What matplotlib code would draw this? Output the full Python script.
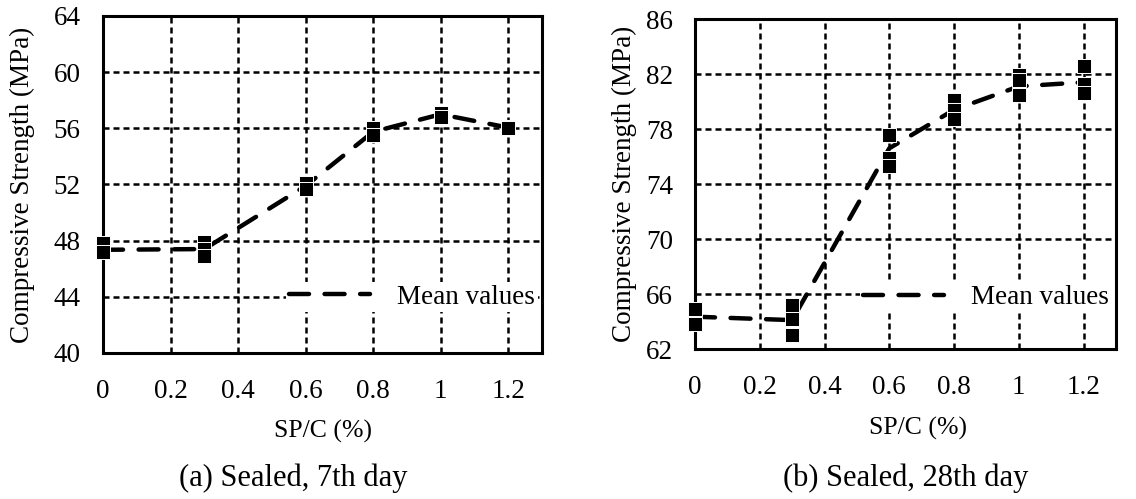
import matplotlib
matplotlib.use('Agg')
import matplotlib.pyplot as plt

plt.rcParams['font.family'] = ['Liberation Serif', 'DejaVu Serif']

###############################
### data

sp_c = [0, 0.3, 0.6, 0.8, 1.0, 1.2]
x_ticks = [0, 0.2, 0.4, 0.6, 0.8, 1.0, 1.2]
x_tick_labels = ['0', '0.2', '0.4', '0.6', '0.8', '1', '1.2']

# sealed, 7th day (MPa)
day7_specimens = [[47.8, 47.2], [47.9, 47.4, 46.9], [52.1, 51.7],
                  [56.0, 55.5], [57.1, 56.8], [56.1, 56.0]]
day7_mean = [47.35, 47.4, 51.9, 55.75, 57.0, 56.05]
day7_yticks = [40, 44, 48, 52, 56, 60, 64]

# sealed, 28th day (MPa)
day28_specimens = [[64.9, 63.8], [65.2, 64.2, 63.0], [77.6, 75.9, 75.3],
                   [80.1, 79.4, 78.7], [81.9, 81.6, 80.5], [82.6, 81.3, 80.6]]
day28_mean = [64.35, 64.1, 76.6, 79.4, 81.1, 81.4]
day28_yticks = [62, 66, 70, 74, 78, 82, 86]

###############################
### plotting

fig = plt.figure(figsize=(11.36, 4.99), dpi=100)
ax1 = fig.add_axes([0.0907, 0.2926, 0.3864, 0.6754])
ax2 = fig.add_axes([0.6118, 0.3006, 0.3706, 0.6613])


def draw(ax, specimens, mean, yticks, legend_y, ylab_x, xlab_x, xlab_y):
	for x, vals in zip(sp_c, specimens):
		ax.plot([x] * len(vals), vals, 's', color='black', ms=9.5,
			mec='white', mew=0.7, zorder=6, clip_on=False)
	ax.plot(sp_c, mean, color='black', lw=3.2, ls=(0, (4.5, 3.5)),
		dash_capstyle='round', label='Mean values', zorder=4)

	ax.set_xlim(0, 1.3)
	ax.set_ylim(yticks[0], yticks[-1])
	ax.set_xticks(x_ticks)
	ax.set_xticklabels(x_tick_labels)
	ax.set_yticks(yticks)
	ax.tick_params(length=0, labelsize=19.5)
	ax.tick_params(axis='y', pad=16)
	ax.tick_params(axis='x', pad=19)
	ax.grid(True, color='black', ls=(0, (2.4, 1.6)), lw=1.8)
	ax.set_axisbelow(True)
	for sp in ax.spines.values():
		sp.set_linewidth(2.2)
		sp.set_color('black')
		sp.set_zorder(5)

	ax.set_ylabel('Compressive Strength (MPa)', fontsize=19.5)
	ax.yaxis.set_label_coords(ylab_x, 0.5)
	ax.set_xlabel('SP/C (%)', fontsize=18.5)
	ax.xaxis.set_label_coords(xlab_x, xlab_y)

	leg = ax.legend(loc='center right', bbox_to_anchor=(0.99, legend_y),
		fontsize=19.5, handlelength=3.0, handletextpad=1.0, borderpad=0.1,
		borderaxespad=0, frameon=True, fancybox=False)
	leg.get_frame().set_facecolor('white')
	leg.get_frame().set_edgecolor('none')
	leg.get_frame().set_alpha(1)


draw(ax1, day7_specimens, day7_mean, day7_yticks, 0.166, -0.155, 0.5, -0.2)
draw(ax2, day28_specimens, day28_mean, day28_yticks, 0.155, -0.138, 0.53, -0.206)

fig.text(293 / 1136, 1 - 478 / 499, '(a) Sealed, 7th day', ha='center', va='center', fontsize=22)
fig.text(906 / 1136, 1 - 478 / 499, '(b) Sealed, 28th day', ha='center', va='center', fontsize=22)

fig.savefig('out.png', dpi=100, facecolor='white')
